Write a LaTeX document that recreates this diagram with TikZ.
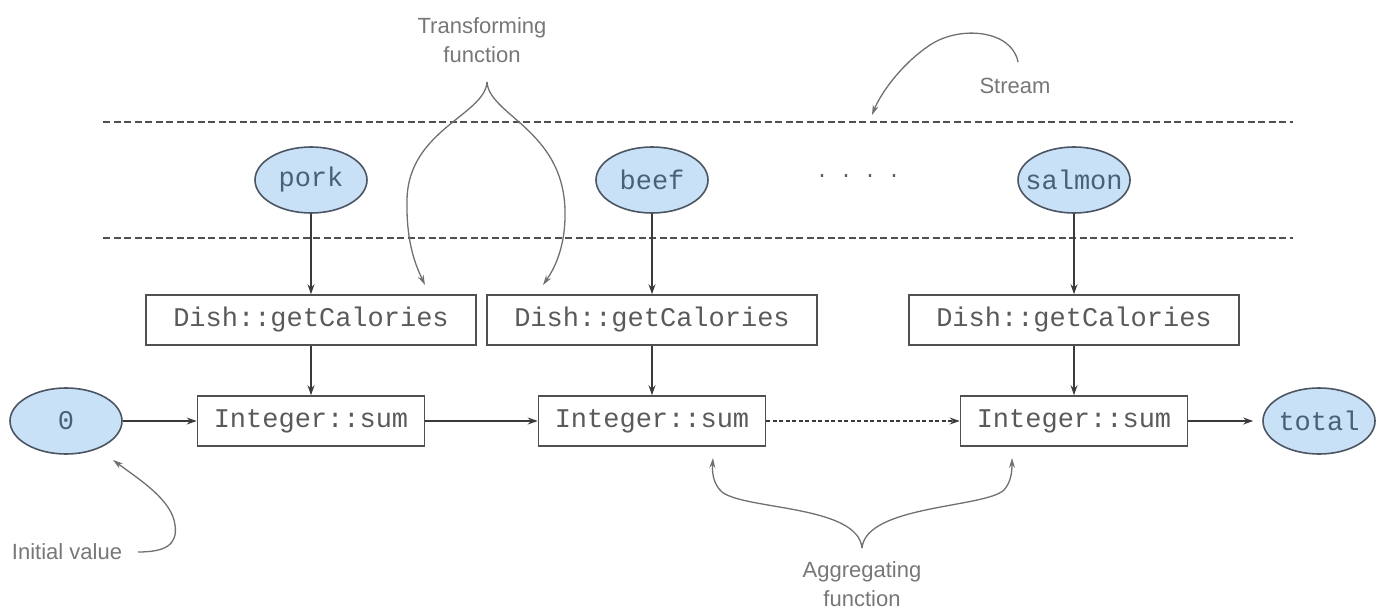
\documentclass[tikz,border=0pt]{standalone}
\usepackage{fontspec}
\setmainfont{Liberation Sans}
\newfontfamily\monof{Liberation Mono}
\usetikzlibrary{shapes.geometric,arrows.meta}
\definecolor{efill}{HTML}{C9E1F6}
\definecolor{edraw}{HTML}{4B5563}
\definecolor{etext}{HTML}{4A6078}
\definecolor{bdraw}{HTML}{505050}
\definecolor{btext}{HTML}{5A5A5A}
\definecolor{conn}{HTML}{3A3A3A}
\definecolor{anno}{HTML}{777777}
\definecolor{annol}{HTML}{707070}
\newcommand{\zw}[1]{\makebox[0pt][c]{#1}}
\tikzset{
  food/.style={ellipse, draw=edraw, line width=1.6pt, fill=efill, minimum width=112pt,
    minimum height=66pt, inner sep=0pt, text=etext, font=\monof\fontsize{27}{30}\selectfont},
  dishbox/.style={rectangle, draw=bdraw, line width=1.6pt, minimum width=330pt,
    minimum height=50pt, inner sep=0pt, text=btext, font=\monof\fontsize{27}{30}\selectfont},
  sumbox/.style={rectangle, draw=bdraw, line width=1.6pt, minimum width=227pt,
    minimum height=50pt, inner sep=0pt, text=btext, font=\monof\fontsize{27}{30}\selectfont},
  conarrow/.style={draw=conn, line width=1.4pt, -{Stealth[length=10pt,width=7pt]}},
  annolabel/.style={text=anno, font=\fontsize{22}{29}\selectfont, align=center, inner sep=0pt},
  annoline/.style={draw=annol, line width=1.3pt},
  annoarrow/.style={draw=annol, line width=1.3pt, -{Stealth[length=10pt,width=6pt]}},
  streamline/.style={draw=bdraw, line width=1.4pt, dash pattern=on 7pt off 3.5pt}
}
\begin{document}
\begin{tikzpicture}[x=1pt,y=-1pt]
\useasboundingbox (0,0) rectangle (1383,612);
% stream boundaries
\coordinate (tl) at (103,122);
\coordinate (tr) at (1293,122);
\coordinate (bl) at (103,238);
\coordinate (br) at (1293,238);
\draw[streamline] (tl) -- (tr);
\draw[streamline] (bl) -- (br);
% elements
\node[food] (pork) at (311,180) {\zw{pork}};
\node[food] (beef) at (652,180) {\zw{beef}};
\node[food] (salmon) at (1074,180) {\zw{salmon}};
\node[text=btext, font=\monof\fontsize{20}{24}\selectfont, inner sep=0pt] (dots) at (858,176) {.\hspace{12pt}.\hspace{12pt}.\hspace{12pt}.};
\node[dishbox] (dish1) at (311,320) {Dish::getCalories};
\node[dishbox] (dish2) at (652,320) {Dish::getCalories};
\node[dishbox] (dish3) at (1074,320) {Dish::getCalories};
\node[sumbox] (sum1) at (311,421) {Integer::sum};
\node[sumbox] (sum2) at (652,421) {Integer::sum};
\node[sumbox] (sum3) at (1074,421) {Integer::sum};
\node[food] (zero) at (66,421) {\zw{0}};
\node[food] (total) at (1319,421) {\zw{total}};
% connectors
\draw[conarrow] (pork) -- (dish1);
\draw[conarrow] (beef) -- (dish2);
\draw[conarrow] (salmon) -- (dish3);
\draw[conarrow] (dish1) -- (sum1);
\draw[conarrow] (dish2) -- (sum2);
\draw[conarrow] (dish3) -- (sum3);
\draw[conarrow] (zero) -- (sum1);
\draw[conarrow] (sum1) -- (sum2);
\draw[conarrow, dash pattern=on 4pt off 2.5pt] (sum2) -- (sum3);
\draw[conarrow, shorten >=9pt] (sum3) -- (total);
% annotations
\node[annolabel] (tflabel) at (482,40) {Transforming\\function};
\node[annolabel] (streamlabel) at (1015,86) {Stream};
\node[annolabel] (agglabel) at (862,584) {Aggregating\\function};
\node[annolabel] (initlabel) at (67,552) {Initial value};
\coordinate (tftip) at (487,82);
\coordinate (tfl) at (425,285);
\coordinate (tfr) at (543,285);
\draw[annoarrow] (tftip) .. controls (485,115) and (408,130) .. (407,200)
  .. controls (406,245) and (417,268) .. (tfl);
\draw[annoarrow] (tftip) .. controls (489,115) and (563,130) .. (565,210)
  .. controls (566,250) and (552,272) .. (tfr);
\coordinate (stst) at (1018,62);
\coordinate (sttip) at (872,115);
\draw[annoarrow] (stst) .. controls (1012,30) and (960,25) .. (930,45)
  .. controls (900,65) and (880,95) .. (sttip);
\coordinate (agtip) at (862,548);
\coordinate (agl) at (713,458);
\coordinate (agr) at (1012,458);
\draw[annoarrow] (agtip) .. controls (858,505) and (745,510) .. (722,492)
  .. controls (713,484) and (712,472) .. (agl);
\draw[annoarrow] (agtip) .. controls (866,505) and (985,508) .. (1004,490)
  .. controls (1011,482) and (1012,472) .. (agr);
\coordinate (inst) at (138,552);
\coordinate (intip) at (113,460);
\draw[annoarrow] (inst) .. controls (165,552) and (178,545) .. (175,525)
  .. controls (172,500) and (140,480) .. (intip);
\end{tikzpicture}
\end{document}
